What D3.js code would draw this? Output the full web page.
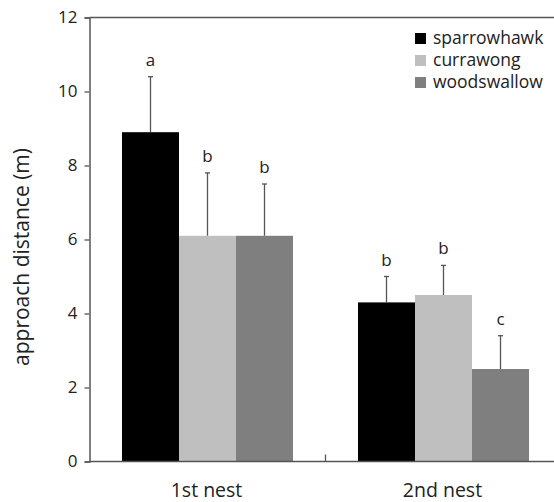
<!DOCTYPE html>
<meta charset="utf-8">
<style>
html,
body {
    margin: 0;
    padding: 0;
    overflow: hidden;
    background: #fff;
}

svg text {
    font-family: "Open Sans", sans-serif;
    fill: #222;
}
</style>
<svg width="554" height="502"></svg>
<script src="https://d3js.org/d3.v7.min.js"></script>
<script>
// data
var nests = ["1st nest", "2nd nest"];
var species = ["sparrowhawk", "currawong", "woodswallow"];
var means = [
    [8.9, 6.1, 6.1],
    [4.3, 4.5, 2.5]
];
var errTops = [
    [10.4, 7.8, 7.5],
    [5.0, 5.3, 3.4]
];
var letters = [
    ["a", "b", "b"],
    ["b", "b", "c"]
];
var yTicks = [0, 2, 4, 6, 8, 10, 12];

var colors = d3.scaleOrdinal()
    .domain(species)
    .range(["#000000", "#bfbfbf", "#7f7f7f"]);

var svg = d3.select("svg");

var mLeft = 89.5,
    mTop = 17.5,
    mBottom = 461.5,
    mRight = 561.5;

var y = d3.scaleLinear().domain([0, 12]).range([mBottom, mTop]);

var x0 = d3.scaleBand().domain(nests).range([mLeft, mRight]);

var x1 = d3.scaleBand()
    .domain(species)
    .range([0, x0.bandwidth()])
    .paddingInner(0)
    .paddingOuter(0.57);

// bars
var groups = svg.append("g")
    .selectAll("g")
    .data(nests)
    .enter().append("g")
    .attr("transform", function(d) {
        return "translate(" + x0(d) + ",0)";
    });

var cells = groups.selectAll("g.cell")
    .data(function(d, i) {
        return species.map(function(s, j) {
            return {
                sp: s,
                v: means[i][j],
                e: errTops[i][j],
                l: letters[i][j]
            };
        });
    })
    .enter().append("g")
    .attr("class", "cell");

// error bars (drawn first, bar covers lower part)
cells.append("line")
    .attr("x1", function(d) { return x1(d.sp) + x1.bandwidth() / 2; })
    .attr("x2", function(d) { return x1(d.sp) + x1.bandwidth() / 2; })
    .attr("y1", function(d) { return y(d.v); })
    .attr("y2", function(d) { return y(d.e); })
    .attr("stroke", "#555")
    .attr("stroke-width", 1.3);

cells.append("line")
    .attr("x1", function(d) { return x1(d.sp) + x1.bandwidth() / 2 - 2.5; })
    .attr("x2", function(d) { return x1(d.sp) + x1.bandwidth() / 2 + 2.5; })
    .attr("y1", function(d) { return y(d.e); })
    .attr("y2", function(d) { return y(d.e); })
    .attr("stroke", "#555")
    .attr("stroke-width", 1.3);

cells.append("rect")
    .attr("x", function(d) { return x1(d.sp); })
    .attr("y", function(d) { return y(d.v); })
    .attr("width", x1.bandwidth())
    .attr("height", function(d) { return y(0) - y(d.v); })
    .attr("fill", function(d) { return colors(d.sp); });

cells.append("text")
    .attr("x", function(d) { return x1(d.sp) + x1.bandwidth() / 2; })
    .attr("y", function(d) { return y(d.e) - 11; })
    .attr("text-anchor", "middle")
    .style("font-size", "17px")
    .text(function(d) { return d.l; });

// axes
var yAxis = svg.append("g")
    .attr("transform", "translate(" + mLeft + ",0)")
    .call(d3.axisLeft(y).tickValues(yTicks).tickSize(5).tickPadding(7));

yAxis.select(".domain").attr("stroke", "#555").attr("stroke-width", 1.5);
yAxis.selectAll(".tick line").attr("stroke", "#555").attr("stroke-width", 1.3);
yAxis.selectAll(".tick text")
    .style("font-size", "17px")
    .style("font-family", "'Open Sans', sans-serif")
    .attr("fill", "#222");

// top frame line and bottom axis line
svg.append("line")
    .attr("x1", mLeft).attr("x2", 554)
    .attr("y1", mTop).attr("y2", mTop)
    .attr("stroke", "#555").attr("stroke-width", 1.5);

svg.append("line")
    .attr("x1", mLeft).attr("x2", 554)
    .attr("y1", mBottom).attr("y2", mBottom)
    .attr("stroke", "#555").attr("stroke-width", 1.5);

// category divider tick
svg.append("line")
    .attr("x1", x0(nests[1])).attr("x2", x0(nests[1]))
    .attr("y1", mBottom).attr("y2", mBottom - 7)
    .attr("stroke", "#555").attr("stroke-width", 1.3);

svg.append("g")
    .selectAll("text")
    .data(nests)
    .enter().append("text")
    .attr("x", function(d) { return x0(d) + x0.bandwidth() / 2 - 1; })
    .attr("y", 497)
    .attr("text-anchor", "middle")
    .style("font-size", "19.5px")
    .text(function(d) { return d; });

// y title
svg.append("text")
    .attr("transform", "translate(29,257) rotate(-90)")
    .attr("text-anchor", "middle")
    .style("font-size", "21px")
    .text("approach distance (m)");

// legend
var legend = svg.append("g")
    .selectAll("g")
    .data(species)
    .enter().append("g")
    .attr("transform", function(d, i) {
        return "translate(415," + (33 + i * 22) + ")";
    });

legend.append("rect")
    .attr("width", 11)
    .attr("height", 11)
    .attr("fill", function(d) { return colors(d); });

legend.append("text")
    .attr("x", 18)
    .attr("y", 11)
    .style("font-size", "17.5px")
    .text(function(d) { return d; });
</script>
